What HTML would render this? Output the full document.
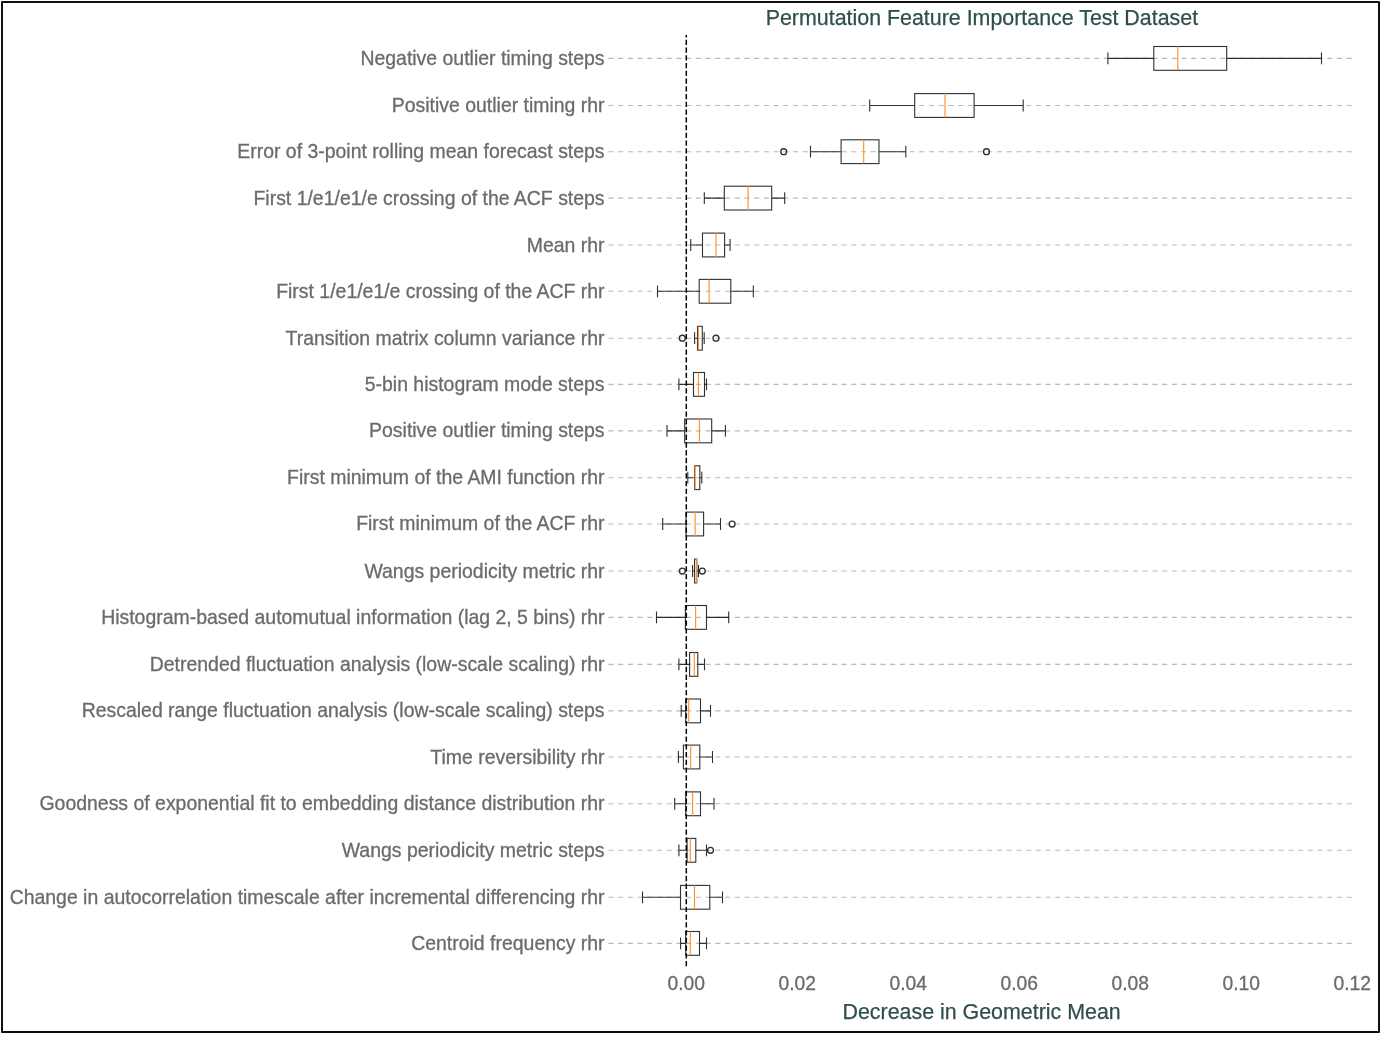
<!DOCTYPE html>
<html lang="en"><head><meta charset="utf-8"><title>Permutation Feature Importance Test Dataset</title>
<style>
html,body{margin:0;padding:0;background:#fff;}
body{width:1384px;height:1038px;overflow:hidden;}
svg{display:block;}
text{font-family:"Liberation Sans",Arial,Helvetica,sans-serif;}
.yl{font-size:19.45px;fill:#6b6b6b;stroke:#6b6b6b;stroke-width:0.3px;text-anchor:end;}
.xl{font-size:19.3px;fill:#6b6b6b;stroke:#6b6b6b;stroke-width:0.3px;text-anchor:middle;}
.big{font-size:21.4px;fill:#2f4f4f;stroke:#2f4f4f;stroke-width:0.25px;text-anchor:middle;}
.grid line{stroke:#b9b9b9;stroke-width:1.1;stroke-dasharray:5.1 4.614;}
.bx{stroke:#303030;stroke-width:1.1;fill:none;}
.md{stroke:#ff9130;stroke-width:1.15;}
.fl{stroke:#303030;stroke-width:1.35;fill:none;}
</style></head><body>
<svg width="1384" height="1038" viewBox="0 0 1384 1038">
<rect x="0" y="0" width="1384" height="1038" fill="#fff"/>
<rect x="2" y="2" width="1377" height="1030" fill="none" stroke="#0f0f0f" stroke-width="2" stroke-linejoin="round"/>
<text class="big" x="981.9" y="25">Permutation Feature Importance Test Dataset</text>
<g class="grid">
<line x1="608.4" y1="58.40" x2="1351.8" y2="58.40"/>
<line x1="608.4" y1="105.50" x2="1351.8" y2="105.50"/>
<line x1="608.4" y1="151.70" x2="1351.8" y2="151.70"/>
<line x1="608.4" y1="198.10" x2="1351.8" y2="198.10"/>
<line x1="608.4" y1="245.00" x2="1351.8" y2="245.00"/>
<line x1="608.4" y1="291.30" x2="1351.8" y2="291.30"/>
<line x1="608.4" y1="338.20" x2="1351.8" y2="338.20"/>
<line x1="608.4" y1="384.40" x2="1351.8" y2="384.40"/>
<line x1="608.4" y1="430.90" x2="1351.8" y2="430.90"/>
<line x1="608.4" y1="477.70" x2="1351.8" y2="477.70"/>
<line x1="608.4" y1="524.00" x2="1351.8" y2="524.00"/>
<line x1="608.4" y1="571.00" x2="1351.8" y2="571.00"/>
<line x1="608.4" y1="617.40" x2="1351.8" y2="617.40"/>
<line x1="608.4" y1="664.40" x2="1351.8" y2="664.40"/>
<line x1="608.4" y1="710.90" x2="1351.8" y2="710.90"/>
<line x1="608.4" y1="757.00" x2="1351.8" y2="757.00"/>
<line x1="608.4" y1="803.80" x2="1351.8" y2="803.80"/>
<line x1="608.4" y1="850.30" x2="1351.8" y2="850.30"/>
<line x1="608.4" y1="897.30" x2="1351.8" y2="897.30"/>
<line x1="608.4" y1="943.40" x2="1351.8" y2="943.40"/>
</g>
<text class="yl" x="604.6" y="65.00">Negative outlier timing steps</text>
<text class="yl" x="604.6" y="112.00">Positive outlier timing rhr</text>
<text class="yl" x="604.6" y="158.00">Error of 3-point rolling mean forecast steps</text>
<text class="yl" x="604.6" y="205.00">First 1/e1/e1/e crossing of the ACF steps</text>
<text class="yl" x="604.6" y="252.00">Mean rhr</text>
<text class="yl" x="604.6" y="298.00">First 1/e1/e1/e crossing of the ACF rhr</text>
<text class="yl" x="604.6" y="345.00">Transition matrix column variance rhr</text>
<text class="yl" x="604.6" y="391.00">5-bin histogram mode steps</text>
<text class="yl" x="604.6" y="437.00">Positive outlier timing steps</text>
<text class="yl" x="604.6" y="484.00">First minimum of the AMI function rhr</text>
<text class="yl" x="604.6" y="530.00">First minimum of the ACF rhr</text>
<text class="yl" x="604.6" y="578.00">Wangs periodicity metric rhr</text>
<text class="yl" x="604.6" y="624.00">Histogram-based automutual information (lag 2, 5 bins) rhr</text>
<text class="yl" x="604.6" y="671.00">Detrended fluctuation analysis (low-scale scaling) rhr</text>
<text class="yl" x="604.6" y="717.00">Rescaled range fluctuation analysis (low-scale scaling) steps</text>
<text class="yl" x="604.6" y="764.00">Time reversibility rhr</text>
<text class="yl" x="604.6" y="810.00">Goodness of exponential fit to embedding distance distribution rhr</text>
<text class="yl" x="604.6" y="857.00">Wangs periodicity metric steps</text>
<text class="yl" x="604.6" y="904.00">Change in autocorrelation timescale after incremental differencing rhr</text>
<text class="yl" x="604.6" y="950.00">Centroid frequency rhr</text>
<g class="bx"><rect x="1153.8" y="46.50" width="72.9" height="23.80"/><path d="M1107.9 58.40H1153.8M1226.7 58.40H1321.5M1107.9 52.50V64.30M1321.5 52.50V64.30"/></g><line class="md" x1="1177.8" y1="46.50" x2="1177.8" y2="70.30"/>
<g class="bx"><rect x="914.7" y="93.60" width="59.4" height="23.80"/><path d="M869.7 105.50H914.7M974.1 105.50H1023.2M869.7 99.60V111.40M1023.2 99.60V111.40"/></g><line class="md" x1="945.0" y1="93.60" x2="945.0" y2="117.40"/>
<g class="bx"><rect x="841.1" y="139.80" width="37.9" height="23.80"/><path d="M810.5 151.70H841.1M879.0 151.70H905.8M810.5 145.80V157.60M905.8 145.80V157.60"/></g><line class="md" x1="863.7" y1="139.80" x2="863.7" y2="163.60"/><circle class="fl" cx="783.7" cy="151.70" r="2.95"/><circle class="fl" cx="986.5" cy="151.70" r="2.95"/>
<g class="bx"><rect x="724.3" y="186.20" width="47.4" height="23.80"/><path d="M704.3 198.10H724.3M771.7 198.10H784.7M704.3 192.20V204.00M784.7 192.20V204.00"/></g><line class="md" x1="748.1" y1="186.20" x2="748.1" y2="210.00"/>
<g class="bx"><rect x="702.5" y="233.10" width="22.1" height="23.80"/><path d="M690.7 245.00H702.5M724.6 245.00H730.1M690.7 239.10V250.90M730.1 239.10V250.90"/></g><line class="md" x1="716.0" y1="233.10" x2="716.0" y2="256.90"/>
<g class="bx"><rect x="699.2" y="279.40" width="31.6" height="23.80"/><path d="M657.5 291.30H699.2M730.8 291.30H753.3M657.5 285.40V297.20M753.3 285.40V297.20"/></g><line class="md" x1="709.1" y1="279.40" x2="709.1" y2="303.20"/>
<g class="bx"><rect x="697.5" y="326.30" width="4.8" height="23.80"/><path d="M694.6 338.20H697.5M702.3 338.20H704.2M694.6 332.30V344.10M704.2 332.30V344.10"/></g><line class="md" x1="698.4" y1="326.30" x2="698.4" y2="350.10"/><circle class="fl" cx="682.3" cy="338.20" r="2.95"/><circle class="fl" cx="716.0" cy="338.20" r="2.95"/>
<g class="bx"><rect x="693.5" y="372.50" width="11.0" height="23.80"/><path d="M678.9 384.40H693.5M704.5 384.40H706.5M678.9 378.50V390.30M706.5 378.50V390.30"/></g><line class="md" x1="698.4" y1="372.50" x2="698.4" y2="396.30"/>
<g class="bx"><rect x="684.7" y="419.00" width="27.0" height="23.80"/><path d="M667.0 430.90H684.7M711.7 430.90H725.4M667.0 425.00V436.80M725.4 425.00V436.80"/></g><line class="md" x1="699.4" y1="419.00" x2="699.4" y2="442.80"/>
<g class="bx"><rect x="694.6" y="465.80" width="5.2" height="23.80"/><path d="M687.8 477.70H694.6M699.8 477.70H701.8M687.8 471.80V483.60M701.8 471.80V483.60"/></g><line class="md" x1="695.1" y1="465.80" x2="695.1" y2="489.60"/>
<g class="bx"><rect x="686.0" y="512.10" width="17.6" height="23.80"/><path d="M662.7 524.00H686.0M703.6 524.00H720.5M662.7 518.10V529.90M720.5 518.10V529.90"/></g><line class="md" x1="695.1" y1="512.10" x2="695.1" y2="535.90"/><circle class="fl" cx="732.1" cy="524.00" r="2.95"/>
<g class="bx"><rect x="694.6" y="559.10" width="2.2" height="23.80"/><path d="M692.6 571.00H694.6M696.8 571.00H698.5M692.6 565.10V576.90M698.5 565.10V576.90"/></g><line class="md" x1="696.4" y1="559.10" x2="696.4" y2="582.90"/><circle class="fl" cx="682.3" cy="571.00" r="2.95"/><circle class="fl" cx="702.3" cy="571.00" r="2.95"/>
<g class="bx"><rect x="685.4" y="605.50" width="21.1" height="23.80"/><path d="M656.5 617.40H685.4M706.5 617.40H728.7M656.5 611.50V623.30M728.7 611.50V623.30"/></g><line class="md" x1="695.6" y1="605.50" x2="695.6" y2="629.30"/>
<g class="bx"><rect x="689.6" y="652.50" width="8.2" height="23.80"/><path d="M678.9 664.40H689.6M697.8 664.40H704.5M678.9 658.50V670.30M704.5 658.50V670.30"/></g><line class="md" x1="694.3" y1="652.50" x2="694.3" y2="676.30"/>
<g class="bx"><rect x="685.7" y="699.00" width="14.8" height="23.80"/><path d="M681.2 710.90H685.7M700.5 710.90H710.5M681.2 705.00V716.80M710.5 705.00V716.80"/></g><line class="md" x1="688.7" y1="699.00" x2="688.7" y2="722.80"/>
<g class="bx"><rect x="683.4" y="745.10" width="16.4" height="23.80"/><path d="M678.4 757.00H683.4M699.8 757.00H712.5M678.4 751.10V762.90M712.5 751.10V762.90"/></g><line class="md" x1="690.7" y1="745.10" x2="690.7" y2="768.90"/>
<g class="bx"><rect x="685.7" y="791.90" width="14.8" height="23.80"/><path d="M674.7 803.80H685.7M700.5 803.80H714.0M674.7 797.90V809.70M714.0 797.90V809.70"/></g><line class="md" x1="692.6" y1="791.90" x2="692.6" y2="815.70"/>
<g class="bx"><rect x="687.1" y="838.40" width="8.7" height="23.80"/><path d="M678.9 850.30H687.1M695.8 850.30H706.5M678.9 844.40V856.20M706.5 844.40V856.20"/></g><line class="md" x1="690.3" y1="838.40" x2="690.3" y2="862.20"/><circle class="fl" cx="710.5" cy="850.30" r="2.95"/>
<g class="bx"><rect x="680.5" y="885.40" width="29.3" height="23.80"/><path d="M642.5 897.30H680.5M709.8 897.30H722.5M642.5 891.40V903.20M722.5 891.40V903.20"/></g><line class="md" x1="694.5" y1="885.40" x2="694.5" y2="909.20"/>
<g class="bx"><rect x="685.7" y="931.50" width="13.8" height="23.80"/><path d="M680.6 943.40H685.7M699.5 943.40H706.5M680.6 937.50V949.30M706.5 937.50V949.30"/></g><line class="md" x1="690.3" y1="931.50" x2="690.3" y2="955.30"/>
<line x1="686.3" y1="966.3" x2="686.3" y2="35.1" stroke="#000" stroke-width="1.5" stroke-dasharray="5.3 2.441"/>
<text class="xl" x="686.3" y="990.2">0.00</text>
<text class="xl" x="797.3" y="990.2">0.02</text>
<text class="xl" x="908.3" y="990.2">0.04</text>
<text class="xl" x="1019.3" y="990.2">0.06</text>
<text class="xl" x="1130.3" y="990.2">0.08</text>
<text class="xl" x="1241.3" y="990.2">0.10</text>
<text class="xl" x="1352.3" y="990.2">0.12</text>
<text class="big" x="981.6" y="1019">Decrease in Geometric Mean</text>
</svg>
</body></html>
